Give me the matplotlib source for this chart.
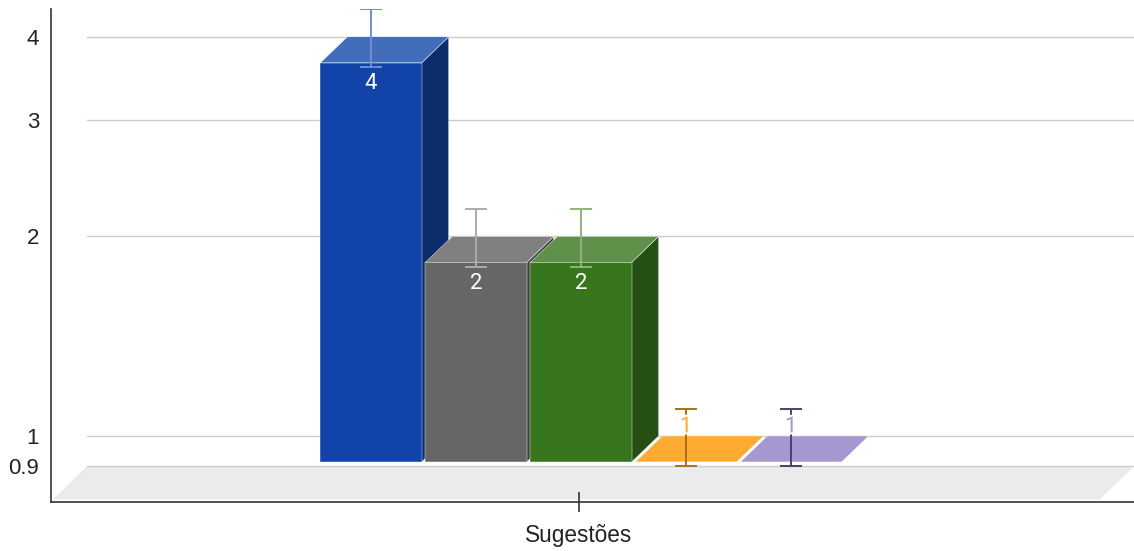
import matplotlib
matplotlib.use("Agg")
import matplotlib.pyplot as plt
from matplotlib.patches import Polygon
from matplotlib.transforms import IdentityTransform, blended_transform_factory
import matplotlib.patheffects as pe
import numpy as np

# --- data -------------------------------------------------------------
category = "Sugestões"
series_values = [4, 2, 2, 1, 1]
series_errors = [0.4, 0.2, 0.2, 0.1, 0.1]
ytick_values = [0.9, 1, 2, 3, 4]
ytick_labels = ["0.9", "1", "2", "3", "4"]

# face colours per series: front, top, side; plus error bar colour
front_colors = ["#1143a9", "#666666", "#38761d", "#ffab33", "#a697d0"]
top_colors = ["#416dba", "#808080", "#5f914a", "#ffab33", "#a697d0"]
side_colors = ["#0c2c6c", "#424242", "#264f13", "#c98520", "#7d6fa8"]
err_colors = ["#6f8fd0", "#ababab", "#8db47c", "#a8701c", "#4c416c"]

# --- figure / axes ----------------------------------------------------
W, H = 1134, 551
fig = plt.figure(figsize=(W / 100, H / 100), dpi=100)
ax = fig.add_axes([51 / W, (H - 502) / H, 1083 / W, 493 / H])
ax.set_yscale("log")
ax.set_ylim(0.795, 4.406)
ax.set_xlim(-528 / 525, 555 / 525)
ax.minorticks_off()

for s in ("top", "right"):
    ax.spines[s].set_visible(False)
for s in ("left", "bottom"):
    ax.spines[s].set_color("#333333")
    ax.spines[s].set_linewidth(1.2)

FONT = ["Liberation Sans", "DejaVu Sans"]
LABEL_FONT = ["Roboto", "DejaVu Sans"]
ax.set_yticks(ytick_values)
ax.set_yticklabels(ytick_labels, fontsize=16, color="#222222", family=FONT)
ax.tick_params(axis="y", length=0, pad=8.5)
ax.set_xticks([0])
ax.set_xticklabels([category], fontsize=16.3, color="#222222", family=FONT)
ax.tick_params(axis="x", direction="inout", length=15, width=1.1,
               color="#222222", pad=8.5)

# 3D depth offsets (pixels): back plane -> front plane
BAR_DX, BAR_DY = 27, 26
FLOOR_DX, FLOOR_DY = 34, 33
grid_x0 = 36 / 1083

# floor
fig.canvas.draw()
blend = blended_transform_factory(ax.transAxes, ax.transData)
bl = blend.transform((grid_x0, 0.9))
br = blend.transform((1.0, 0.9))
floor = [bl, br, br - [FLOOR_DX, FLOOR_DY], bl - [FLOOR_DX, FLOOR_DY]]
ax.add_patch(Polygon(floor, closed=True, transform=IdentityTransform(),
                     facecolor="#ebebeb", edgecolor="none", zorder=0.5,
                     clip_on=False))

# back-wall gridlines
for yv in ytick_values:
    ax.axhline(yv, xmin=grid_x0, xmax=1, color="#cccccc", lw=1.0, zorder=0.8)

# bars
step, width = 0.2, 0.193
centers = (np.arange(len(series_values)) - 2) * step + 2 / 525
base = 1.0


def front_px(x, y):
    p = ax.transData.transform((x, y))
    return p - [0, BAR_DY]


def back_px(x, y):
    p = ax.transData.transform((x, y))
    return p + [BAR_DX, 0]


for i, (c, v) in enumerate(zip(centers, series_values)):
    xl, xr = c - width / 2, c + width / 2
    z = 2 + i * 0.1
    front = [front_px(xl, base), front_px(xr, base),
             front_px(xr, v), front_px(xl, v)]
    top = [front_px(xl, v), front_px(xr, v), back_px(xr, v), back_px(xl, v)]
    side = [front_px(xr, base), back_px(xr, base),
            back_px(xr, v), front_px(xr, v)]
    for pts, col in ((side, side_colors[i]), (front, front_colors[i]),
                     (top, top_colors[i])):
        ax.add_patch(Polygon(pts, closed=True, transform=IdentityTransform(),
                             facecolor=col, edgecolor="white", lw=0.3,
                             zorder=z, clip_on=False))

# error bars
for i, (c, v, e) in enumerate(zip(centers, series_values, series_errors)):
    ax.errorbar([c], [v], yerr=[[e], [e]], fmt="none", ecolor=err_colors[i],
                elinewidth=1.4, capsize=8, capthick=1.4, zorder=4)

# value labels
for i, (c, v) in enumerate(zip(centers, series_values)):
    if v > base:
        ax.annotate(str(v), xy=(c, v), xytext=(0, -BAR_DY - 21),
                    textcoords="offset pixels", ha="center", va="center",
                    fontsize=16, color="white", family=LABEL_FONT, zorder=5)
    else:
        ax.annotate(str(v), xy=(c, v), xytext=(0, 9),
                    textcoords="offset pixels", ha="center", va="center",
                    fontsize=16, color=front_colors[i],
                    family=LABEL_FONT, zorder=5,
                    path_effects=[pe.withStroke(linewidth=3, foreground="white")])

fig.savefig("out.png", dpi=100)
